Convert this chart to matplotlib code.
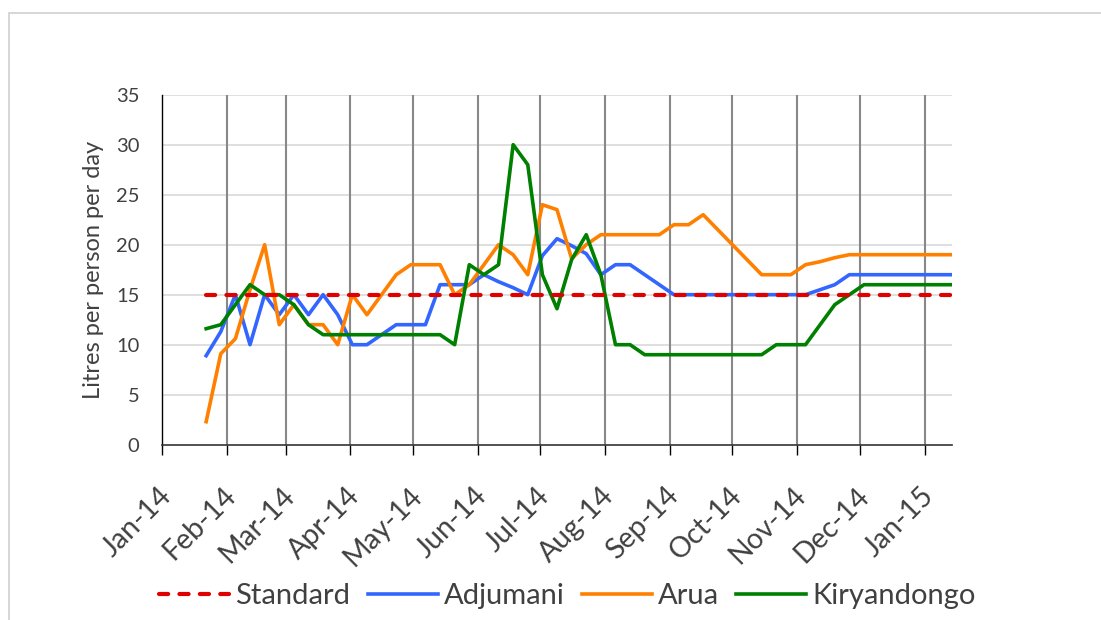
import matplotlib
matplotlib.use("Agg")
import matplotlib.pyplot as plt
import matplotlib.dates as mdates
import matplotlib.transforms as mtransforms
from matplotlib.patches import Rectangle
import pandas as pd

plt.rcParams['font.family'] = ['Lato', 'DejaVu Sans']

# ---- data (weekly observations) ----
week_start = "2014-01-22"
n_weeks = 52
dates = pd.date_range(week_start, periods=n_weeks, freq="7D")

standard = [15, 15, 15, 15, 15, 15, 15, 15, 15, 15, 15, 15, 15,
            15, 15, 15, 15, 15, 15, 15, 15, 15, 15, 15, 15, 15,
            15, 15, 15, 15, 15, 15, 15, 15, 15, 15, 15, 15, 15,
            15, 15, 15, 15, 15, 15, 15, 15, 15, 15, 15, 15, 15]

adjumani = [8.9, 11.3, 15, 10, 15, 13, 15, 13, 15, 13, 10, 10, 11,
            12, 12, 12, 16, 16, 16, 17, 16.3, 15.7, 15, 18.9, 20.6, 19.9,
            19.1, 17, 18, 18, 17, 16, 15, 15, 15, 15, 15, 15, 15,
            15, 15, 15, 15.5, 16, 17, 17, 17, 17, 17, 17, 17, 17]

arua = [2.3, 9.1, 10.6, 15.5, 20, 12, 14, 12, 12, 10, 15, 13, 15,
        17, 18, 18, 18, 15, 16, 18, 20, 19, 17, 24, 23.5, 18.6,
        20, 21, 21, 21, 21, 21, 22, 22, 23, 21.5, 20, 18.5, 17,
        17, 17, 18, 18.3, 18.7, 19, 19, 19, 19, 19, 19, 19, 19]

kiryandongo = [11.6, 12, 14, 16, 15, 15, 14, 12, 11, 11, 11, 11, 11,
               11, 11, 11, 11, 10, 18, 17, 18, 30, 28, 17, 13.6, 18.5,
               21, 17, 10, 10, 9, 9, 9, 9, 9, 9, 9, 9, 9,
               10, 10, 10, 12, 14, 15, 16, 16, 16, 16, 16, 16, 16]

series_names = ["Standard", "Adjumani", "Arua", "Kiryandongo"]
y_ticks = [0, 5, 10, 15, 20, 25, 30, 35]
x_start, x_end = "2014-01-01", "2015-01-14"
month_ticks = pd.date_range("2014-01-01", "2015-01-01", freq="MS")
y_label = "Litres per person per day"

# ---- figure ----
W, H = 1101, 620
fig = plt.figure(figsize=(W / 100, H / 100), dpi=100)
ax = fig.add_axes([162.3 / W, 1 - 444.7 / H, (951.7 - 162.3) / W, (444.7 - 94.7) / H])

# outer chart border (left and top visible)
fig.add_artist(Rectangle((8.5 / W, -0.2), 2.0, (1 - 12.5 / H) + 0.2,
                         transform=fig.transFigure, fill=False,
                         edgecolor="#d0d0d0", linewidth=1.2))

text_color = "#404040"

ax.plot(dates, standard, color="#E00000", linewidth=3.0,
        linestyle=(0, (2.2, 2.7)), dash_capstyle="round", label=series_names[0], zorder=5)
ax.plot(dates, adjumani, color="#3366FF", linewidth=2.6, label=series_names[1], zorder=4)
ax.plot(dates, arua, color="#FF8000", linewidth=2.6, label=series_names[2], zorder=4)
ax.plot(dates, kiryandongo, color="#008000", linewidth=2.6, label=series_names[3], zorder=4)

ax.set_xlim(pd.Timestamp(x_start), pd.Timestamp(x_end))
ax.set_ylim(0, 35)
ax.set_yticks(y_ticks)
ax.set_xticks(month_ticks)
ax.xaxis.set_major_formatter(mdates.DateFormatter("%b-%y"))

# grids
for yv in y_ticks[1:]:
    ax.axhline(yv, color="#d9d9d9", linewidth=1.2, zorder=1)
for d in month_ticks[1:]:
    ax.axvline(d, color="#888888", linewidth=1.5, zorder=1)

for s in ["top", "right"]:
    ax.spines[s].set_visible(False)
ax.spines["left"].set_color("#000000")
ax.spines["left"].set_linewidth(1.0)
ax.spines["bottom"].set_color("#333333")
ax.spines["bottom"].set_linewidth(1.2)

ax.tick_params(axis="y", length=0, pad=16.5, labelsize=14.5, labelcolor=text_color)
ax.tick_params(axis="x", length=7.2, width=1.0, color="#000000", pad=23,
               labelsize=20.5, labelcolor=text_color)
offset = mtransforms.ScaledTranslation(5 / 100, -5 / 100, fig.dpi_scale_trans)
for lab in ax.get_xticklabels():
    lab.set_rotation(45)
    lab.set_ha("right")
    lab.set_va("center")
    lab.set_rotation_mode("anchor")
    lab.set_transform(lab.get_transform() + offset)

ax.set_ylabel(y_label, fontsize=17, color=text_color)
ax.yaxis.label.set_va("center")
ax.yaxis.set_label_coords((94 - 162.3) / (951.7 - 162.3), 0.5)

leg = fig.legend(loc="center", bbox_to_anchor=(567.5 / W, 1 - 596 / H),
                 ncol=4, frameon=False, fontsize=21, handlelength=2.4,
                 handletextpad=0.2, columnspacing=0.6, borderaxespad=0)
for t in leg.get_texts():
    t.set_color(text_color)

fig.savefig("out.png", dpi=100)
